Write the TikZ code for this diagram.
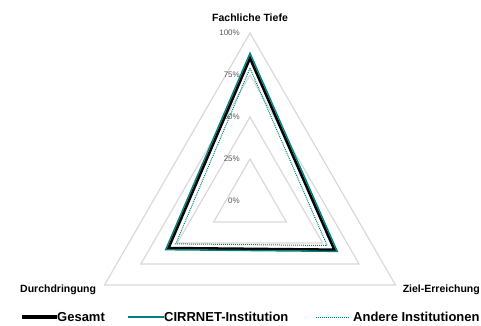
\documentclass[tikz,border=0pt]{standalone}
\usepackage{fontspec}
\setmainfont{Liberation Sans}
\definecolor{petrol}{RGB}{0,128,128}
\definecolor{rastergrau}{RGB}{217,217,217}
\definecolor{textgrau}{RGB}{89,89,89}

\begin{document}
\begin{tikzpicture}[x=1pt,y=1pt,
  ring/.style={draw=rastergrau,line width=1.2pt},
  pct/.style={anchor=east,text=textgrau,font=\fontsize{8}{9}\selectfont,inner sep=0pt},
  achse/.style={font=\fontsize{10.5}{12}\bfseries\selectfont,inner sep=0pt},
  leg/.style={anchor=west,font=\fontsize{13}{15}\bfseries\selectfont,inner sep=0pt},
  gesamt/.style={line width=2.6pt},
  cirrnet/.style={draw=petrol,line width=1.4pt},
  andere/.style={draw=petrol,line width=1pt,dash pattern=on 1pt off 1pt}]
\useasboundingbox (-250,-124) rectangle (231,201);
\foreach \r in {42,84,126,168}
  \draw[ring] (90:\r) -- (210:\r) -- (330:\r) -- cycle;
\node[pct] (p0) at (-10,0) {0\%};
\node[pct] (p25) at (-10,42) {25\%};
\node[pct] (p50) at (-10,84) {50\%};
\node[pct] (p75) at (-10,126) {75\%};
\node[pct] (p100) at (-10,168) {100\%};
\draw[gesamt] (90:142.8) -- (210:94.1) -- (330:97.4) -- cycle;
\draw[cirrnet] (90:147.8) -- (210:97.4) -- (330:100.8) -- cycle;
\draw[andere] (90:132.7) -- (210:85.7) -- (330:89) -- cycle;
\node[achse] (fach) at (0,183) {Fachliche Tiefe};
\node[achse,anchor=west] (durch) at (-230,-89) {Durchdringung};
\node[achse,anchor=east] (ziel) at (230,-89) {Ziel-Erreichung};
\coordinate (g1) at (-228,-116);
\node[leg] (lg) at (-193,-116) {Gesamt};
\draw[gesamt,line width=3.5pt] (g1) -- (lg.west);
\coordinate (c1) at (-122,-116);
\node[leg] (lc) at (-86,-116) {CIRRNET-Institution};
\draw[cirrnet,line width=2pt] (c1) -- (lc.west);
\coordinate (a1) at (66,-116);
\node[leg] (la) at (103,-116) {Andere Institutionen};
\draw[andere] (a1) -- ([xshift=-4pt]la.west);
\end{tikzpicture}
\end{document}
